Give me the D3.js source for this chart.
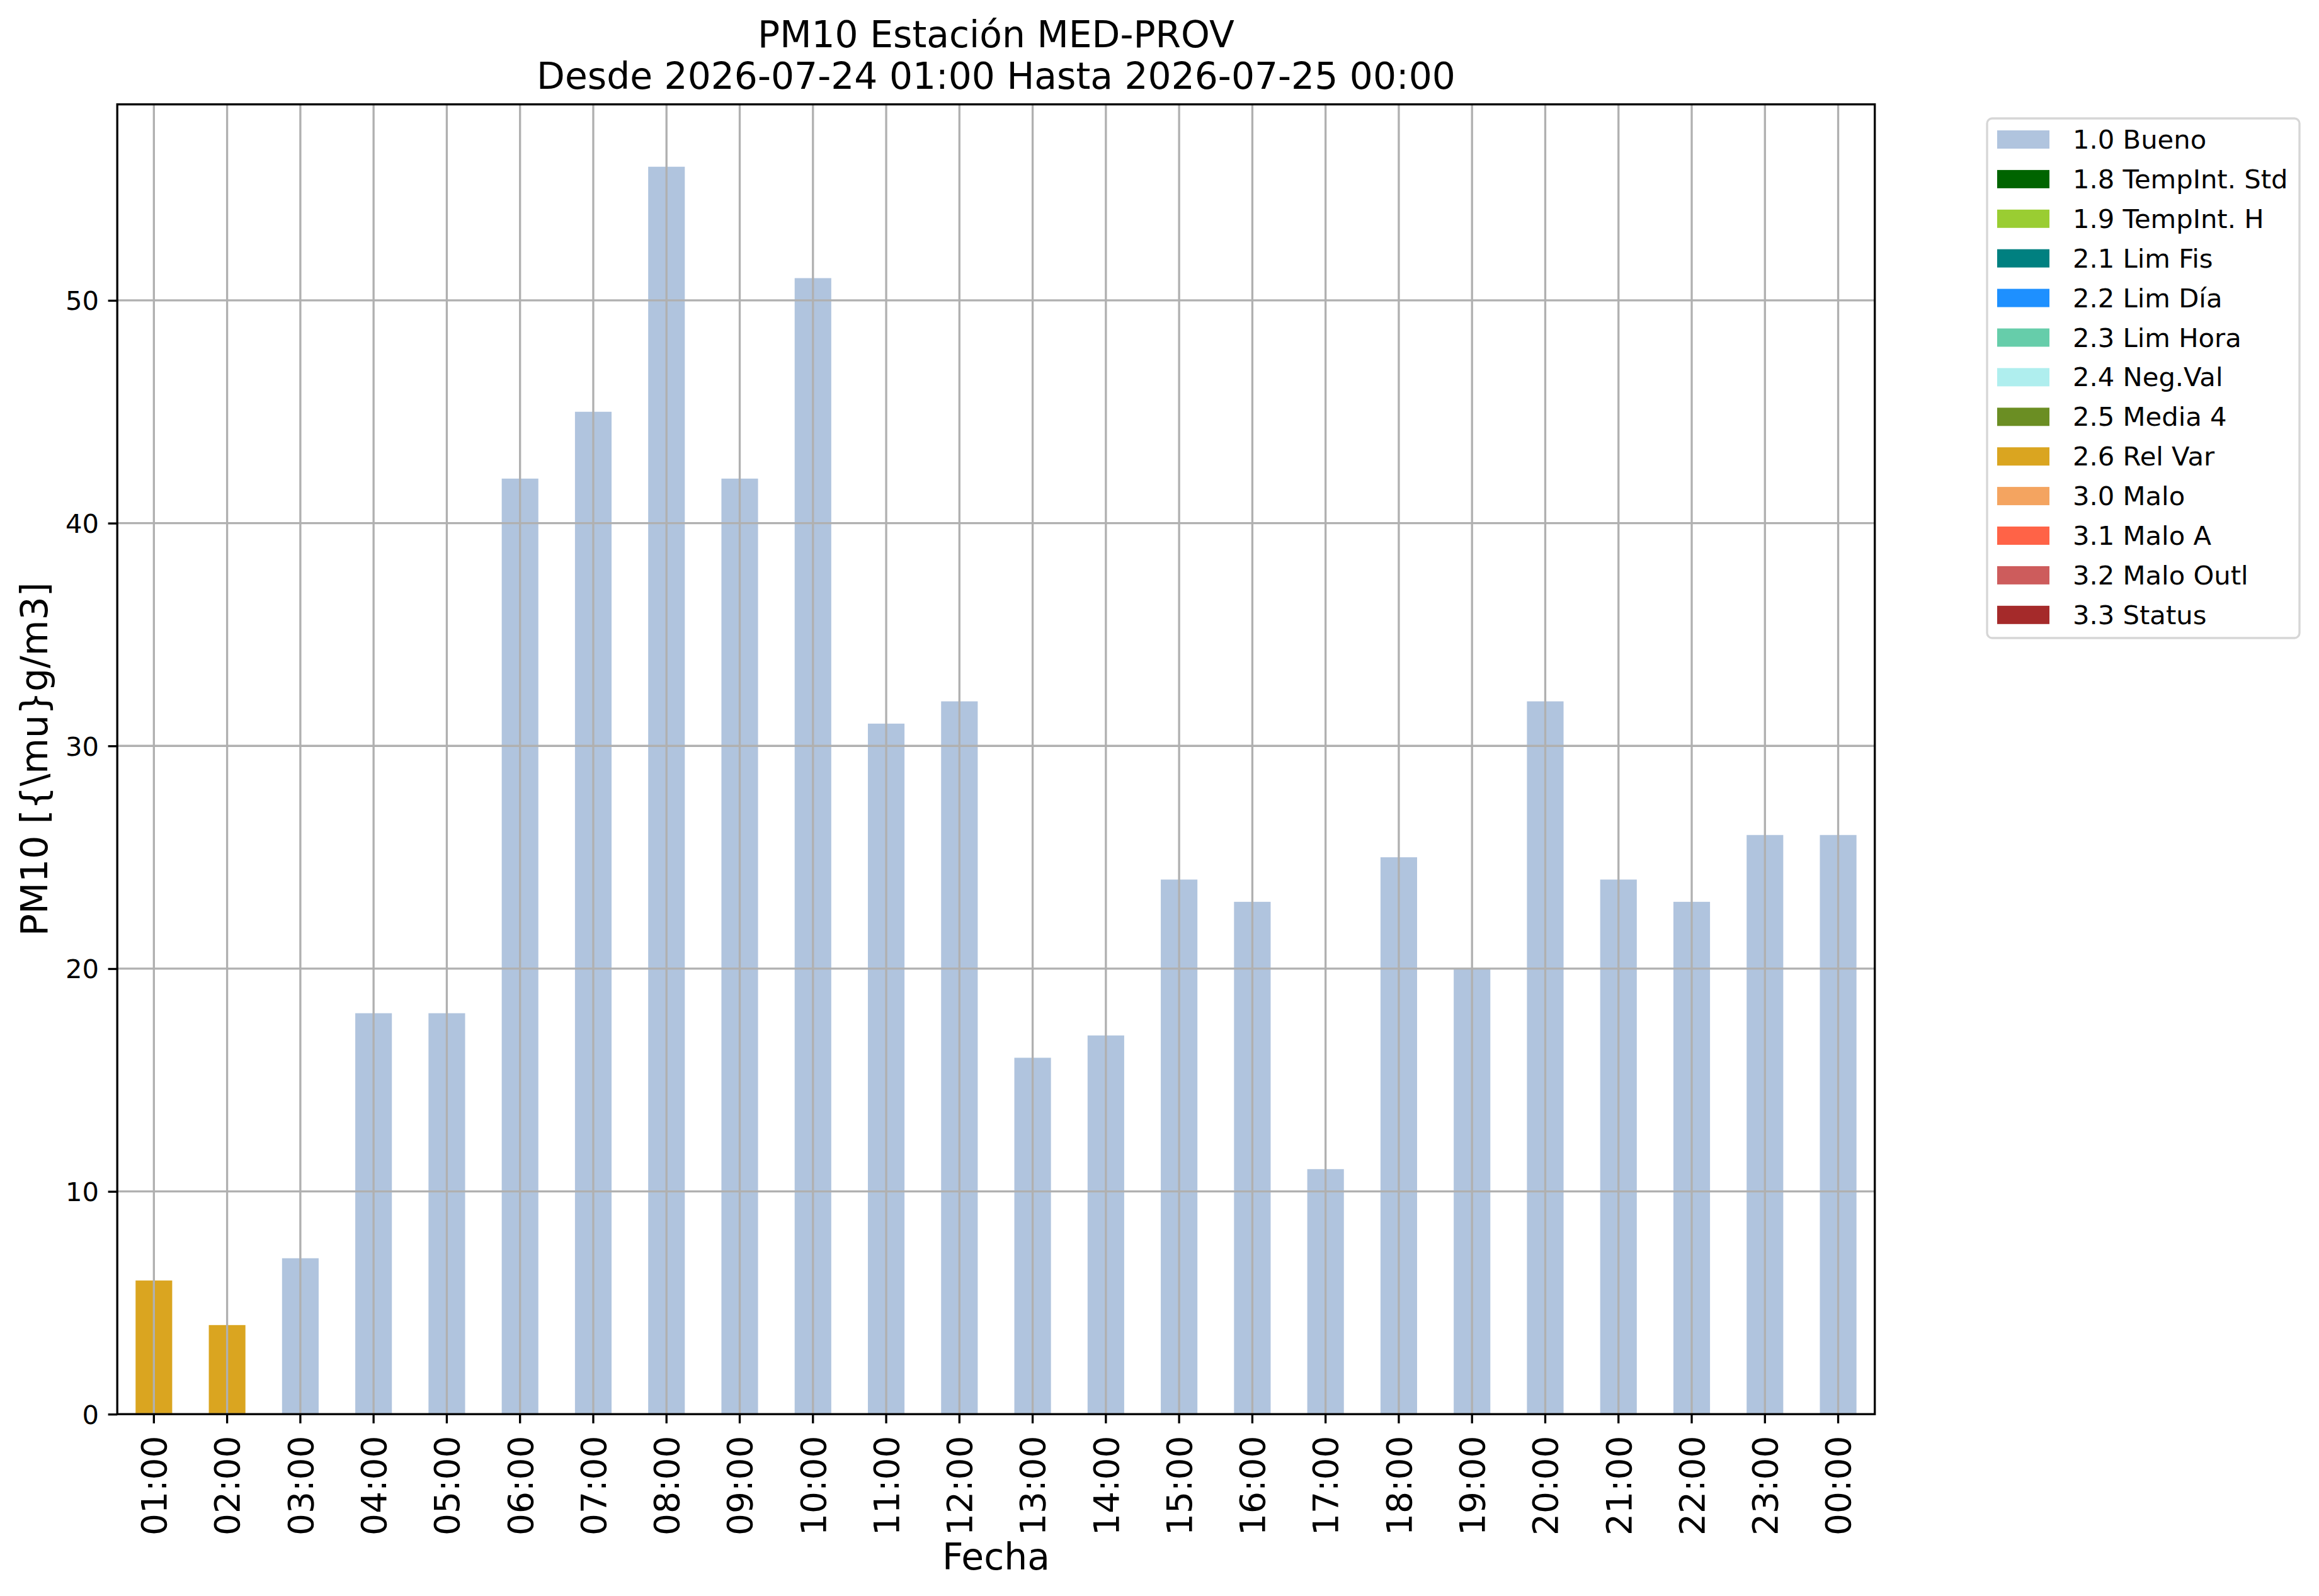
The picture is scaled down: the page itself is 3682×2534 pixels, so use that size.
<!DOCTYPE html>
<html>
<head>
<meta charset="utf-8">
<script src="https://d3js.org/d3.v7.min.js"></script>
<style>
  body { margin: 0; background: #fff; }
  text { font-family: "DejaVu Sans", sans-serif; fill: #000; }
</style>
</head>
<body>
<svg id="chart" width="3682" height="2534"></svg>
<script>
// hourly values, 2026-07-24 01:00 .. 2026-07-25 00:00
var hours = ["01:00","02:00","03:00","04:00","05:00","06:00","07:00","08:00",
             "09:00","10:00","11:00","12:00","13:00","14:00","15:00","16:00",
             "17:00","18:00","19:00","20:00","21:00","22:00","23:00","00:00"];
var values = [6, 4, 7, 18, 18, 42, 45, 56, 42, 51, 31, 32,
              16, 17, 24, 23, 11, 25, 20, 32, 24, 23, 26, 26];
var flags = ["2.6","2.6","1.0","1.0","1.0","1.0","1.0","1.0","1.0","1.0","1.0","1.0",
             "1.0","1.0","1.0","1.0","1.0","1.0","1.0","1.0","1.0","1.0","1.0","1.0"];

var flagCodes = ["1.0","1.8","1.9","2.1","2.2","2.3","2.4","2.5","2.6","3.0","3.1","3.2","3.3"];
var flagNames = ["1.0 Bueno","1.8 TempInt. Std","1.9 TempInt. H","2.1 Lim Fis","2.2 Lim Día",
                 "2.3 Lim Hora","2.4 Neg.Val","2.5 Media 4","2.6 Rel Var","3.0 Malo",
                 "3.1 Malo A","3.2 Malo Outl","3.3 Status"];
var flagColors = ["lightsteelblue","darkgreen","yellowgreen","teal","dodgerblue",
                  "mediumaquamarine","paleturquoise","olivedrab","goldenrod","sandybrown",
                  "tomato","indianred","brown"];
var yTicks = [0, 10, 20, 30, 40, 50];

var svg = d3.select("#chart");
var axL = 186.2, axR = 2976.7, axT = 165.7, axB = 2245.3;
var lw = 3.33, tickLen = 14.6, pad = 14.6;

var x = d3.scaleBand()
  .domain(hours)
  .range([axL, axR])
  .paddingInner(0.5)
  .paddingOuter(0.25);

var y = d3.scaleLinear()
  .domain([0, d3.max(values) * 1.05])
  .range([axB, axT]);

var color = d3.scaleOrdinal().domain(flagCodes).range(flagColors);

// bars
svg.append("g")
  .selectAll("rect")
  .data(values)
  .enter()
  .append("rect")
  .attr("x", function(d, i){ return x(hours[i]); })
  .attr("width", x.bandwidth())
  .attr("y", function(d){ return y(d); })
  .attr("height", function(d){ return y(0) - y(d); })
  .attr("fill", function(d, i){ return color(flags[i]); });

// grid (drawn over the bars)
var grid = svg.append("g").attr("stroke", "#b0b0b0").attr("stroke-width", lw);
grid.selectAll("line.v")
  .data(hours)
  .enter().append("line")
  .attr("class", "v")
  .attr("x1", function(d){ return x(d) + x.bandwidth() / 2; })
  .attr("x2", function(d){ return x(d) + x.bandwidth() / 2; })
  .attr("y1", axT).attr("y2", axB);
grid.selectAll("line.h")
  .data(yTicks)
  .enter().append("line")
  .attr("class", "h")
  .attr("x1", axL).attr("x2", axR)
  .attr("y1", function(d){ return y(d); })
  .attr("y2", function(d){ return y(d); });

// axes
var xAxis = svg.append("g")
  .attr("transform", "translate(0," + axB + ")")
  .call(d3.axisBottom(x).tickSize(tickLen).tickSizeOuter(0));
xAxis.select(".domain").remove();
xAxis.selectAll("line").attr("stroke", "#000").attr("stroke-width", lw);
xAxis.selectAll("text")
  .attr("font-size", 55)
  .attr("font-family", "DejaVu Sans")
  .attr("text-anchor", "end")
  .attr("transform", "rotate(-90)")
  .attr("x", -(tickLen + pad + 5))
  .attr("y", 0)
  .attr("dy", "0.36em");

var yAxis = svg.append("g")
  .attr("transform", "translate(" + axL + ",0)")
  .call(d3.axisLeft(y).tickValues(yTicks).tickSize(tickLen).tickSizeOuter(0).tickPadding(pad));
yAxis.select(".domain").remove();
yAxis.selectAll("line").attr("stroke", "#000").attr("stroke-width", lw);
yAxis.selectAll("text")
  .attr("font-size", 41.7)
  .attr("font-family", "DejaVu Sans")
  .attr("dy", "0.36em");

// spines
svg.append("rect")
  .attr("x", axL).attr("y", axT)
  .attr("width", axR - axL).attr("height", axB - axT)
  .attr("fill", "none").attr("stroke", "#000").attr("stroke-width", lw);

// titles and labels
var cx = (axL + axR) / 2;
svg.append("text").attr("x", cx).attr("y", 75).attr("text-anchor", "middle")
  .attr("font-size", 58.3).text("PM10 Estación MED-PROV");
svg.append("text").attr("x", cx).attr("y", 141).attr("text-anchor", "middle")
  .attr("font-size", 58.3).text("Desde 2026-07-24 01:00 Hasta 2026-07-25 00:00");
svg.append("text").attr("x", cx).attr("y", 2492).attr("text-anchor", "middle")
  .attr("font-size", 58.3).text("Fecha");
svg.append("text")
  .attr("transform", "translate(75," + ((axT + axB) / 2) + ") rotate(-90)")
  .attr("text-anchor", "middle")
  .attr("font-size", 58.3).text("PM10 [{\\mu}g/m3]");

// legend
var lg = svg.append("g");
lg.append("rect")
  .attr("x", 3155).attr("y", 188)
  .attr("width", 496).attr("height", 825)
  .attr("rx", 8).attr("ry", 8)
  .attr("fill", "#fff").attr("stroke", "#d6d6d6").attr("stroke-width", lw);
var row = 62.9;
lg.selectAll("rect.key")
  .data(flagNames)
  .enter().append("rect")
  .attr("class", "key")
  .attr("x", 3171).attr("width", 83)
  .attr("y", function(d, i){ return 207 + i * row; })
  .attr("height", 29)
  .attr("fill", function(d, i){ return flagColors[i]; });
lg.selectAll("text")
  .data(flagNames)
  .enter().append("text")
  .attr("x", 3291)
  .attr("y", function(d, i){ return 236 + i * row; })
  .attr("font-size", 41.7)
  .text(function(d){ return d; });
</script>
</body>
</html>
